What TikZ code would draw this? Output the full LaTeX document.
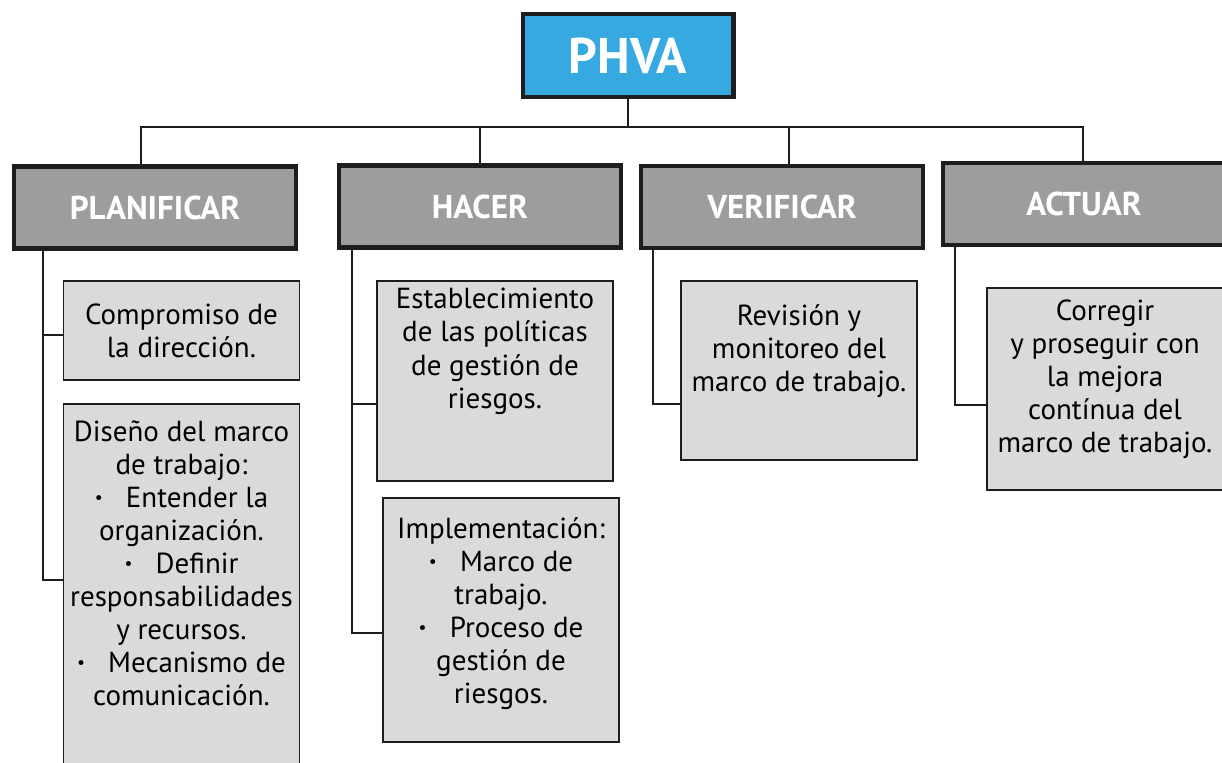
\documentclass[tikz,border=0pt]{standalone}
\usepackage{fontspec}
\setmainfont{PT Sans}
\usetikzlibrary{positioning}
\definecolor{phvablue}{RGB}{54,169,225}
\definecolor{phasegray}{RGB}{157,157,156}
\definecolor{itemgray}{RGB}{218,218,218}
\definecolor{edgeblack}{RGB}{29,29,27}
\newcommand{\bul}{\raisebox{0.12em}{\fontsize{10}{10}\selectfont •}\ \ \ }

\begin{document}
\begin{tikzpicture}[x=0.02cm,y=-0.02cm,
    every node/.style={rectangle,draw=edgeblack,inner sep=0pt},
    root/.style={fill=phvablue,line width=2.3pt,minimum width=4.22cm,minimum height=1.66cm,
        text=white,font=\fontsize{28.5}{30}\selectfont\bfseries},
    phase/.style={fill=phasegray,line width=2.3pt,minimum width=5.64cm,minimum height=1.64cm,
        text=white,font=\fontsize{18.8}{20}\selectfont\bfseries},
    item/.style={fill=itemgray,line width=1.1pt,minimum width=4.72cm},
    txt/.style={draw=none,align=center,font=\fontsize{16.5}{18.8}\selectfont},
    conn/.style={draw=edgeblack,line width=1.1pt}]
    \useasboundingbox (0,0) rectangle (1222,762);

    \node[root] (phva) at (628,55.5) {PHVA};
    \node[phase] (plan) at (155,207.5) {PLANIFICAR};
    \node[phase] (hacer) at (480,206.5) {HACER};
    \node[phase] (verif) at (782,207) {VERIFICAR};
    \node[phase] (act) at (1084,204) {ACTUAR};

    \node[item,minimum height=1.98cm] (c1) at (181.5,330.5) {};
    \node[item,minimum height=7.6cm] (c2) at (181.5,594) {};
    \node[item,minimum height=4cm] (h1) at (495,381) {};
    \node[item,minimum height=4.88cm] (h2) at (501,620) {};
    \node[item,minimum height=3.58cm] (v1) at (799,370.5) {};
    \node[item,minimum height=4.04cm] (a1) at (1105,389) {};

    \node[txt] (c1t) at (c1) {Compromiso de\\la dirección.};
    \node[txt,below=0.34cm of c2.north] (c2t) {Diseño del marco\\de trabajo:\\
        \bul Entender la\\organización.\\\bul Definir\\responsabilidades\\
        y recursos.\\\bul Mecanismo de\\comunicación.};
    \node[txt,below=0.16cm of h1.north] (h1t) {Establecimiento\\de las políticas\\de gestión de\\riesgos.};
    \node[txt,below=0.4cm of h2.north] (h2t) {Implementación:\\\bul Marco de\\trabajo.\\
        \bul Proceso de\\gestión de\\riesgos.};
    \node[txt,below=0.48cm of v1.north] (v1t) {Revisión y\\monitoreo del\\marco de trabajo.};
    \node[txt,below=0.24cm of a1.north] (a1t) {Corregir\\y proseguir con\\la mejora\\contínua del\\marco de trabajo.};

    \coordinate (bar) at (628,127);
    \foreach \v/\d in {plan/-0.28cm,hacer/0cm,verif/0.14cm,act/-0.02cm}
        \draw[conn] (phva.south) -- (bar) -| ([xshift=\d]\v.north);

    \foreach \p/\c/\x/\y in {plan/c1/43/335,plan/c2/43/580,hacer/h1/352/404,
        hacer/h2/352/633,verif/v1/653/404,act/a1/955/405}
        \draw[conn] (\x,0 |- \p.south) |- (\c.west |- 0,\y);
\end{tikzpicture}
\end{document}
